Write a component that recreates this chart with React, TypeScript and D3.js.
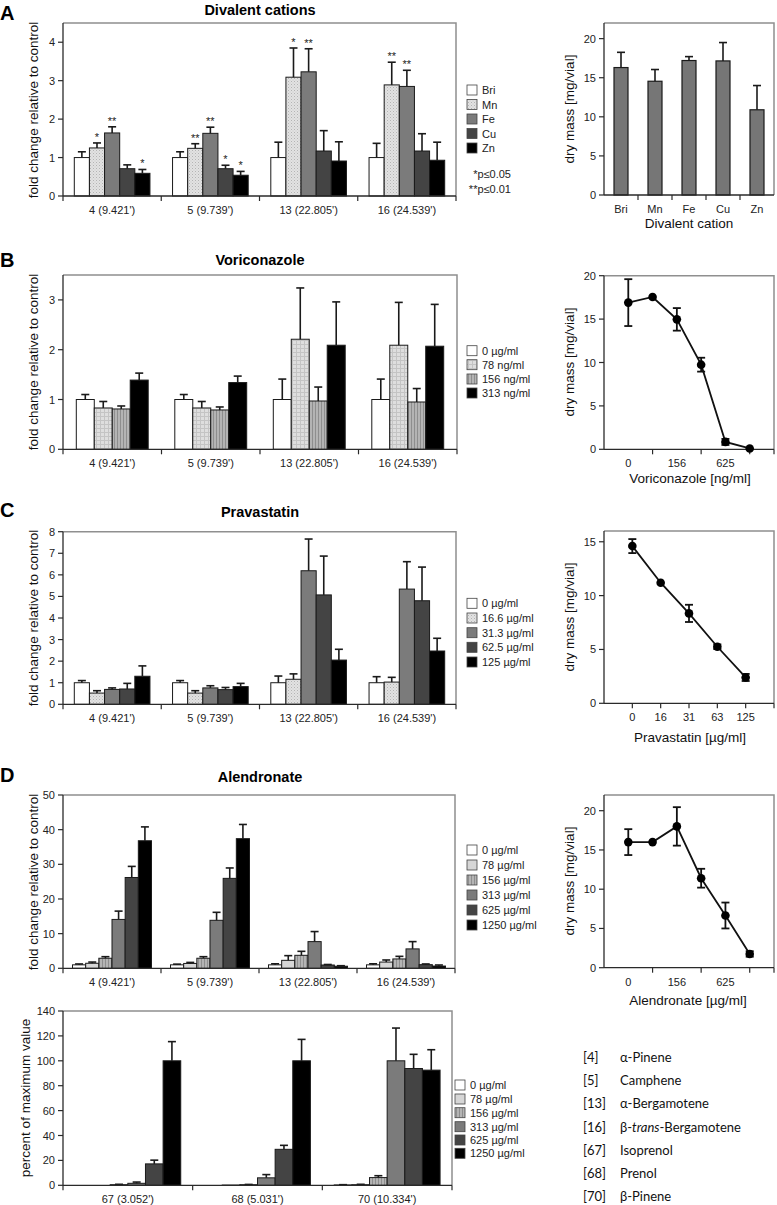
import React from "react";
import * as d3 from "d3";

const W = 777;
const H = 1205;
const FONT = "'Liberation Sans', Arial, sans-serif";
const AX = "#2a2a2a";
const FRAME = "#8f8f8f";

// ---------- shared categories ----------
const peaks = ["4 (9.421')", "5 (9.739')", "13 (22.805')", "16 (24.539')"];
const peaksD2 = ["67 (3.052')", "68 (5.031')", "70 (10.334')"];

// ---------- Panel A : divalent cations ----------
const cations = ["Bri", "Mn", "Fe", "Cu", "Zn"];
const cationFold4 = [1.0, 1.25, 1.64, 0.71, 0.59];
const cationFold5 = [1.0, 1.24, 1.63, 0.71, 0.54];
const cationFold13 = [1.0, 3.09, 3.23, 1.17, 0.91];
const cationFold16 = [1.0, 2.89, 2.85, 1.17, 0.93];
const cationErr4 = [0.15, 0.13, 0.16, 0.1, 0.1];
const cationErr5 = [0.15, 0.12, 0.16, 0.09, 0.1];
const cationErr13 = [0.4, 0.76, 0.6, 0.53, 0.5];
const cationErr16 = [0.37, 0.59, 0.42, 0.45, 0.47];
const cationStars4 = ["", "*", "**", "", "*"];
const cationStars5 = ["", "**", "**", "*", "*"];
const cationStars13 = ["", "*", "**", "", ""];
const cationStars16 = ["", "**", "**", "", ""];
const cationDry = [16.3, 14.55, 17.2, 17.15, 10.9];
const cationDryErr = [1.95, 1.5, 0.5, 2.35, 3.1];
const cationTicks = [0, 1, 2, 3, 4];
const dryTicks20 = [0, 5, 10, 15, 20];

// ---------- Panel B : voriconazole ----------
const voriLegend = ["0 µg/ml", "78 ng/ml", "156 ng/ml", "313 ng/ml"];
const voriFold4 = [1.0, 0.83, 0.81, 1.39];
const voriFold5 = [1.0, 0.83, 0.79, 1.34];
const voriFold13 = [1.0, 2.21, 0.97, 2.09];
const voriFold16 = [1.0, 2.09, 0.95, 2.07];
const voriErr4 = [0.1, 0.13, 0.06, 0.14];
const voriErr5 = [0.1, 0.13, 0.06, 0.13];
const voriErr13 = [0.41, 1.03, 0.28, 0.87];
const voriErr16 = [0.41, 0.86, 0.27, 0.84];
const voriTicks = [0, 1, 2, 3];
const voriDose = ["0", "78", "156", "313", "625", "1250"];
const voriDry = [16.9, 17.55, 14.97, 9.75, 0.85, 0.1];
const voriDryErr = [2.7, 0, 1.3, 0.8, 0.35, 0];

// ---------- Panel C : pravastatin ----------
const pravaLegend = ["0 µg/ml", "16.6 µg/ml", "31.3 µg/ml", "62.5 µg/ml", "125 µg/ml"];
const pravaFold4 = [1.0, 0.52, 0.69, 0.71, 1.3];
const pravaFold5 = [1.0, 0.52, 0.76, 0.68, 0.82];
const pravaFold13 = [1.0, 1.16, 6.19, 5.07, 2.05];
const pravaFold16 = [1.0, 1.03, 5.34, 4.8, 2.47];
const pravaErr4 = [0.1, 0.11, 0.07, 0.26, 0.48];
const pravaErr5 = [0.1, 0.11, 0.1, 0.1, 0.15];
const pravaErr13 = [0.31, 0.25, 1.47, 1.8, 0.5];
const pravaErr16 = [0.28, 0.22, 1.27, 1.56, 0.59];
const pravaTicks = [0, 1, 2, 3, 4, 5, 6, 7, 8];
const pravaDose = ["0", "16", "31", "63", "125"];
const pravaDry = [14.6, 11.2, 8.35, 5.25, 2.4];
const pravaDryErr = [0.65, 0, 0.8, 0.22, 0.33];
const pravaDryTicks = [0, 5, 10, 15];

// ---------- Panel D : alendronate ----------
const alenLegend = ["0 µg/ml", "78 µg/ml", "156 µg/ml", "313 µg/ml", "625 µg/ml", "1250 µg/ml"];
const alenFold4 = [1.0, 1.45, 2.9, 14.1, 26.2, 36.8];
const alenFold5 = [1.0, 1.4, 2.9, 13.85, 25.95, 37.4];
const alenFold13 = [1.0, 2.3, 3.75, 7.7, 0.95, 0.6];
const alenFold16 = [1.0, 1.8, 2.7, 5.6, 1.05, 0.65];
const alenErr4 = [0.25, 0.35, 0.45, 2.4, 3.2, 4.0];
const alenErr5 = [0.2, 0.3, 0.45, 2.3, 3.0, 4.1];
const alenErr13 = [0.3, 1.35, 1.15, 2.9, 0.15, 0.15];
const alenErr16 = [0.3, 0.6, 0.75, 2.1, 0.2, 0.3];
const alenTicks = [0, 10, 20, 30, 40, 50];
const alenPct67 = [0, 0, 0.5, 1.6, 17.2, 100];
const alenPct68 = [0, 0.2, 0.5, 6.0, 28.9, 100];
const alenPct70 = [0.3, 0.5, 6.2, 100, 93.8, 92.5];
const alenPctErr67 = [0, 0, 0.3, 1.0, 3.0, 15.4];
const alenPctErr68 = [0, 0, 0.2, 2.6, 3.2, 17.2];
const alenPctErr70 = [0.2, 0.3, 1.5, 26.3, 11.4, 16.4];
const pctTicks = [0, 20, 40, 60, 80, 100, 120, 140];
const alenDose = ["0", "78", "156", "313", "625", "1250"];
const alenDry = [16.0, 16.0, 18.0, 11.4, 6.65, 1.75];
const alenDryErr = [1.65, 0, 2.45, 1.2, 1.65, 0.35];

// ---------- compound key ----------
const keyIds = ["[4]", "[5]", "[13]", "[16]", "[67]", "[68]", "[70]"];
const keyNames = ["α-Pinene", "Camphene", "α-Bergamotene", "β-trans-Bergamotene", "Isoprenol", "Prenol", "β-Pinene"];

// fills
const WHITE = "#ffffff";
const DOTS = "url(#dots)";
const GRID = "url(#grid)";
const STRIPE = "url(#stripe)";
const LIGHT = "#d6d6d6";
const MID = "#7b7b7b";
const DARK = "#444444";
const BLACK = "#000000";

type Box = { x0: number; x1: number; y0: number; y1: number };

function YAxis({ box, y, ticks }: { box: Box; y: d3.ScaleLinear<number, number>; ticks: number[] }) {
  return (
    <g>
      <line x1={box.x0} x2={box.x0} y1={box.y0} y2={box.y1} stroke={AX} strokeWidth={1.3} />
      {ticks.map((t) => (
        <g key={t}>
          <line x1={box.x0 - 5} x2={box.x0} y1={y(t)} y2={y(t)} stroke={AX} strokeWidth={1.2} />
          <text x={box.x0 - 8} y={y(t) + 4} textAnchor="end" fontSize={11} fontFamily={FONT} fill="#222">
            {t}
          </text>
        </g>
      ))}
    </g>
  );
}

function FrameTR({ box }: { box: Box }) {
  return (
    <path
      d={`M${box.x0},${box.y0}H${box.x1}V${box.y1}`}
      fill="none"
      stroke={FRAME}
      strokeWidth={1.5}
    />
  );
}

function YTitle({ x, cy, text }: { x: number; cy: number; text: string }) {
  return (
    <text
      transform={`translate(${x},${cy}) rotate(-90)`}
      textAnchor="middle"
      fontSize={13.5}
      fontFamily={FONT}
      fill="#111"
    >
      {text}
    </text>
  );
}

function GroupedBars(props: {
  box: Box;
  yMax: number;
  ticks: number[];
  groups: string[];
  values: number[][];
  errors: number[][];
  fills: string[];
  pad: number;
  stars?: string[][];
}) {
  const { box, yMax, ticks, groups, values, errors, fills, pad, stars } = props;
  const y = d3.scaleLinear().domain([0, yMax]).range([box.y1, box.y0]);
  const gx = d3.scaleBand<string>().domain(groups).range([box.x0, box.x1]).paddingInner(0).paddingOuter(0);
  const bw = gx.bandwidth();
  const n = values[0].length;
  const ix = d3.scaleBand<number>().domain(d3.range(n)).range([bw * pad, bw * (1 - pad)]);
  const w = ix.bandwidth();
  const cap = 8;
  return (
    <g>
      {groups.map((g, gi) =>
        values[gi].map((v, si) => {
          const x = (gx(g) as number) + (ix(si) as number);
          return (
            <rect
              key={`${g}-${si}`}
              x={x}
              y={y(v)}
              width={w}
              height={Math.max(0, box.y1 - y(v))}
              fill={fills[si]}
              stroke="#1a1a1a"
              strokeWidth={v > 0 ? 1 : 0}
            />
          );
        })
      )}
      <FrameTR box={box} />
      {groups.map((g, gi) =>
        values[gi].map((v, si) => {
          const e = errors[gi][si];
          const cx = (gx(g) as number) + (ix(si) as number) + w / 2;
          const top = y(v + e);
          const s = stars ? stars[gi][si] : "";
          return (
            <g key={`e-${g}-${si}`}>
              {e > 0 && (
                <>
                  <line x1={cx} x2={cx} y1={y(v)} y2={top} stroke="#1a1a1a" strokeWidth={1.6} />
                  <line x1={cx - cap / 2} x2={cx + cap / 2} y1={top} y2={top} stroke="#1a1a1a" strokeWidth={1.6} />
                </>
              )}
              {s && (
                <text x={cx} y={top - 2} textAnchor="middle" fontSize={11} fontFamily={FONT} fill="#222">
                  {s}
                </text>
              )}
            </g>
          );
        })
      )}
      <YAxis box={box} y={y} ticks={ticks} />
      <line x1={box.x0} x2={box.x1} y1={box.y1} y2={box.y1} stroke={AX} strokeWidth={1.3} />
      {[...groups.map((g) => gx(g) as number), box.x1].map((xx, i) => (
        <line key={i} x1={xx} x2={xx} y1={box.y1} y2={box.y1 + 5} stroke={AX} strokeWidth={1.2} />
      ))}
      {groups.map((g) => (
        <text
          key={g}
          x={(gx(g) as number) + bw / 2}
          y={box.y1 + 18}
          textAnchor="middle"
          fontSize={11}
          fontFamily={FONT}
          fill="#222"
        >
          {g}
        </text>
      ))}
    </g>
  );
}

function Legend({ x, ys, labels, fills }: { x: number; ys: number[]; labels: string[]; fills: string[] }) {
  return (
    <g>
      {labels.map((l, i) => (
        <g key={l}>
          <rect x={x} y={ys[i] - 5} width={10} height={10} fill={fills[i]} stroke="#444" strokeWidth={0.8} />
          <text x={x + 15} y={ys[i] + 4} fontSize={11} fontFamily={FONT} fill="#222">
            {l}
          </text>
        </g>
      ))}
    </g>
  );
}

function DryLine(props: {
  box: Box;
  yMax: number;
  ticks: number[];
  labels: string[];
  labelIdx: number[];
  tickIdx: number[];
  values: number[];
  errors: number[];
}) {
  const { box, yMax, ticks, labels, labelIdx, tickIdx, values, errors } = props;
  const n = labels.length;
  const x = d3.scaleLinear().domain([-1, n]).range([box.x0, box.x1]);
  const y = d3.scaleLinear().domain([0, yMax]).range([box.y1, box.y0]);
  const line = d3
    .line<number>()
    .x((_, i) => x(i))
    .y((v) => y(v));
  const cap = 8;
  return (
    <g>
      <FrameTR box={box} />
      <YAxis box={box} y={y} ticks={ticks} />
      <line x1={box.x0} x2={box.x1} y1={box.y1} y2={box.y1} stroke={AX} strokeWidth={1.3} />
      {tickIdx.map((t) => (
        <line key={t} x1={x(t)} x2={x(t)} y1={box.y1} y2={box.y1 + 5} stroke={AX} strokeWidth={1.2} />
      ))}
      {labelIdx.map((i) => (
        <text key={i} x={x(i)} y={box.y1 + 18} textAnchor="middle" fontSize={11} fontFamily={FONT} fill="#222">
          {labels[i]}
        </text>
      ))}
      <path d={line(values) || ""} fill="none" stroke="#111" strokeWidth={1.8} />
      {values.map((v, i) => {
        const e = errors[i];
        const cx = x(i);
        return (
          <g key={i}>
            {e > 0 && (
              <>
                <line x1={cx} x2={cx} y1={y(v - e)} y2={y(v + e)} stroke="#111" strokeWidth={1.8} />
                <line x1={cx - cap / 2} x2={cx + cap / 2} y1={y(v + e)} y2={y(v + e)} stroke="#111" strokeWidth={1.8} />
                <line x1={cx - cap / 2} x2={cx + cap / 2} y1={y(v - e)} y2={y(v - e)} stroke="#111" strokeWidth={1.8} />
              </>
            )}
            <circle cx={cx} cy={y(v)} r={4.3} fill="#000" />
          </g>
        );
      })}
    </g>
  );
}

function DryBars(props: { box: Box; yMax: number; ticks: number[]; labels: string[]; values: number[]; errors: number[] }) {
  const { box, yMax, ticks, labels, values, errors } = props;
  const x = d3.scaleBand<string>().domain(labels).range([box.x0, box.x1]).padding(0);
  const y = d3.scaleLinear().domain([0, yMax]).range([box.y1, box.y0]);
  const bw = 14;
  const cap = 8;
  return (
    <g>
      {labels.map((l, i) => {
        const cx = (x(l) as number) + x.bandwidth() / 2;
        return (
          <rect
            key={l}
            x={cx - bw / 2}
            y={y(values[i])}
            width={bw}
            height={box.y1 - y(values[i])}
            fill="#767676"
            stroke="#1a1a1a"
            strokeWidth={1.2}
          />
        );
      })}
      <FrameTR box={box} />
      {labels.map((l, i) => {
        const cx = (x(l) as number) + x.bandwidth() / 2;
        const top = y(values[i] + errors[i]);
        return (
          <g key={`e${l}`}>
            <line x1={cx} x2={cx} y1={y(values[i])} y2={top} stroke="#1a1a1a" strokeWidth={1.6} />
            <line x1={cx - cap / 2} x2={cx + cap / 2} y1={top} y2={top} stroke="#1a1a1a" strokeWidth={1.6} />
          </g>
        );
      })}
      <YAxis box={box} y={y} ticks={ticks} />
      <line x1={box.x0} x2={box.x1} y1={box.y1} y2={box.y1} stroke={AX} strokeWidth={1.3} />
      {labels.slice(1).map((l) => (
        <line key={l} x1={x(l) as number} x2={x(l) as number} y1={box.y1} y2={box.y1 + 5} stroke={AX} strokeWidth={1.2} />
      ))}
      {labels.map((l) => (
        <text
          key={`t${l}`}
          x={(x(l) as number) + x.bandwidth() / 2}
          y={box.y1 + 18}
          textAnchor="middle"
          fontSize={11}
          fontFamily={FONT}
          fill="#222"
        >
          {l}
        </text>
      ))}
    </g>
  );
}

function PanelLetter({ x, y, t }: { x: number; y: number; t: string }) {
  return (
    <text x={x} y={y} fontSize={20} fontWeight="bold" fontFamily={FONT} fill="#000">
      {t}
    </text>
  );
}

function Title({ y, t }: { y: number; t: string }) {
  return (
    <text x={260} y={y} textAnchor="middle" fontSize={14.5} fontWeight="bold" fontFamily={FONT} fill="#000">
      {t}
    </text>
  );
}

function XTitle({ x, y, t }: { x: number; y: number; t: string }) {
  return (
    <text x={x} y={y} textAnchor="middle" fontSize={13.5} fontFamily={FONT} fill="#111">
      {t}
    </text>
  );
}

export default function App() {
  const boxA: Box = { x0: 63, x1: 456, y0: 23, y1: 196 };
  const boxAr: Box = { x0: 604, x1: 774, y0: 23, y1: 195 };
  const boxB: Box = { x0: 63, x1: 457, y0: 275, y1: 449.3 };
  const boxBr: Box = { x0: 604, x1: 774, y0: 275.7, y1: 449.3 };
  const boxC: Box = { x0: 63, x1: 456, y0: 531.7, y1: 704.3 };
  const boxCr: Box = { x0: 604, x1: 774, y0: 531, y1: 703.3 };
  const boxD: Box = { x0: 63, x1: 455, y0: 795, y1: 968.3 };
  const boxDr: Box = { x0: 604, x1: 774, y0: 795, y1: 967.7 };
  const boxD2: Box = { x0: 63, x1: 452, y0: 1011, y1: 1185.3 };

  const fillsA = [WHITE, DOTS, MID, DARK, BLACK];
  const fillsB = [WHITE, GRID, STRIPE, BLACK];
  const fillsC = [WHITE, DOTS, MID, DARK, BLACK];
  const fillsD = [WHITE, LIGHT, STRIPE, MID, DARK, BLACK];

  return (
    <svg
      width={W}
      height={H}
      viewBox={`0 0 ${W} ${H}`}
      style={{ position: "absolute", left: 0, top: 0, background: "#fff" }}
    >
      <defs>
        <pattern id="dots" width={3} height={3} patternUnits="userSpaceOnUse">
          <rect width={3} height={3} fill="#e2e2e2" />
          <rect x={0} y={0} width={1} height={1} fill="#b4b4b4" />
          <rect x={1.5} y={1.5} width={1} height={1} fill="#c6c6c6" />
        </pattern>
        <pattern id="grid" width={4} height={4} patternUnits="userSpaceOnUse">
          <rect width={4} height={4} fill="#dedede" />
          <rect x={0} y={0} width={4} height={1} fill="#c4c4c4" />
          <rect x={0} y={0} width={1} height={4} fill="#c4c4c4" />
        </pattern>
        <pattern id="stripe" width={3} height={3} patternUnits="userSpaceOnUse">
          <rect width={3} height={3} fill="#b4b4b4" />
          <rect x={0} y={0} width={1} height={3} fill="#8e8e8e" />
        </pattern>
      </defs>
      <rect width={W} height={H} fill="#fff" />

      {/* ---------- A ---------- */}
      <PanelLetter x={0} y={20} t="A" />
      <Title y={15} t="Divalent cations" />
      <YTitle x={38} cy={110} text="fold change relative to control" />
      <GroupedBars
        box={boxA}
        yMax={4.5}
        ticks={cationTicks}
        groups={peaks}
        values={[cationFold4, cationFold5, cationFold13, cationFold16]}
        errors={[cationErr4, cationErr5, cationErr13, cationErr16]}
        stars={[cationStars4, cationStars5, cationStars13, cationStars16]}
        fills={fillsA}
        pad={0.115}
      />
      <Legend x={467} ys={[90, 104.5, 119, 133.5, 148]} labels={cations} fills={fillsA} />
      <text x={511} y={178} textAnchor="end" fontSize={11} fontFamily={FONT} fill="#222">
        *p≤0.05
      </text>
      <text x={511} y={193} textAnchor="end" fontSize={11} fontFamily={FONT} fill="#222">
        **p≤0.01
      </text>
      <YTitle x={574} cy={109} text="dry mass [mg/vial]" />
      <DryBars box={boxAr} yMax={22} ticks={dryTicks20} labels={cations} values={cationDry} errors={cationDryErr} />
      <XTitle x={689} y={228} t="Divalent cation" />

      {/* ---------- B ---------- */}
      <PanelLetter x={0} y={267} t="B" />
      <Title y={265} t="Voriconazole" />
      <YTitle x={38} cy={362} text="fold change relative to control" />
      <GroupedBars
        box={boxB}
        yMax={3.5}
        ticks={voriTicks}
        groups={peaks}
        values={[voriFold4, voriFold5, voriFold13, voriFold16]}
        errors={[voriErr4, voriErr5, voriErr13, voriErr16]}
        fills={fillsB}
        pad={0.135}
      />
      <Legend x={467} ys={[350.7, 364.7, 379, 393]} labels={voriLegend} fills={fillsB} />
      <YTitle x={574} cy={362} text="dry mass [mg/vial]" />
      <DryLine
        box={boxBr}
        yMax={20}
        ticks={dryTicks20}
        labels={voriDose}
        labelIdx={[0, 2, 4]}
        tickIdx={[1, 3, 5, 6]}
        values={voriDry}
        errors={voriDryErr}
      />
      <XTitle x={690} y={483} t="Voriconazole [ng/ml]" />

      {/* ---------- C ---------- */}
      <PanelLetter x={0} y={517} t="C" />
      <Title y={517} t="Pravastatin" />
      <YTitle x={38} cy={618} text="fold change relative to control" />
      <GroupedBars
        box={boxC}
        yMax={8}
        ticks={pravaTicks}
        groups={peaks}
        values={[pravaFold4, pravaFold5, pravaFold13, pravaFold16]}
        errors={[pravaErr4, pravaErr5, pravaErr13, pravaErr16]}
        fills={fillsC}
        pad={0.115}
      />
      <Legend x={467} ys={[603.3, 618, 632.7, 647.3, 662]} labels={pravaLegend} fills={fillsC} />
      <YTitle x={574} cy={617} text="dry mass [mg/vial]" />
      <DryLine
        box={boxCr}
        yMax={16}
        ticks={pravaDryTicks}
        labels={pravaDose}
        labelIdx={[0, 1, 2, 3, 4]}
        tickIdx={[0, 1, 2, 3, 4, 5]}
        values={pravaDry}
        errors={pravaDryErr}
      />
      <XTitle x={690} y={742} t="Pravastatin [µg/ml]" />

      {/* ---------- D ---------- */}
      <PanelLetter x={0} y={782} t="D" />
      <Title y={782} t="Alendronate" />
      <YTitle x={38} cy={882} text="fold change relative to control" />
      <GroupedBars
        box={boxD}
        yMax={50}
        ticks={alenTicks}
        groups={peaks}
        values={[alenFold4, alenFold5, alenFold13, alenFold16]}
        errors={[alenErr4, alenErr5, alenErr13, alenErr16]}
        fills={fillsD}
        pad={0.097}
      />
      <Legend x={467} ys={[850, 865, 880, 895, 910, 925]} labels={alenLegend} fills={fillsD} />
      <YTitle x={574} cy={881} text="dry mass [mg/vial]" />
      <DryLine
        box={boxDr}
        yMax={22}
        ticks={dryTicks20}
        labels={alenDose}
        labelIdx={[0, 2, 4]}
        tickIdx={[1, 3, 5, 6]}
        values={alenDry}
        errors={alenDryErr}
      />
      <XTitle x={688} y={1005} t="Alendronate [µg/ml]" />

      <YTitle x={30} cy={1098} text="percent of maximum value" />
      <GroupedBars
        box={boxD2}
        yMax={140}
        ticks={pctTicks}
        groups={peaksD2}
        values={[alenPct67, alenPct68, alenPct70]}
        errors={[alenPctErr67, alenPctErr68, alenPctErr70]}
        fills={fillsD}
        pad={0.092}
      />
      <Legend x={455} ys={[1085, 1099, 1112.7, 1126.7, 1140, 1153.3]} labels={alenLegend} fills={fillsD} />

      {/* compound key */}
      {keyIds.map((id, i) => {
        const yy = 1062 + i * 23.2;
        const name = keyNames[i];
        return (
          <g key={id} fontFamily="Lato, 'Open Sans', sans-serif" fontSize={13} fill="#111">
            <text x={583} y={yy}>
              {id}
            </text>
            <text x={620} y={yy}>
              {name.includes("trans") ? (
                <>
                  {"β-"}
                  <tspan fontStyle="italic">trans</tspan>
                  {"-Bergamotene"}
                </>
              ) : (
                name
              )}
            </text>
          </g>
        );
      })}
    </svg>
  );
}
